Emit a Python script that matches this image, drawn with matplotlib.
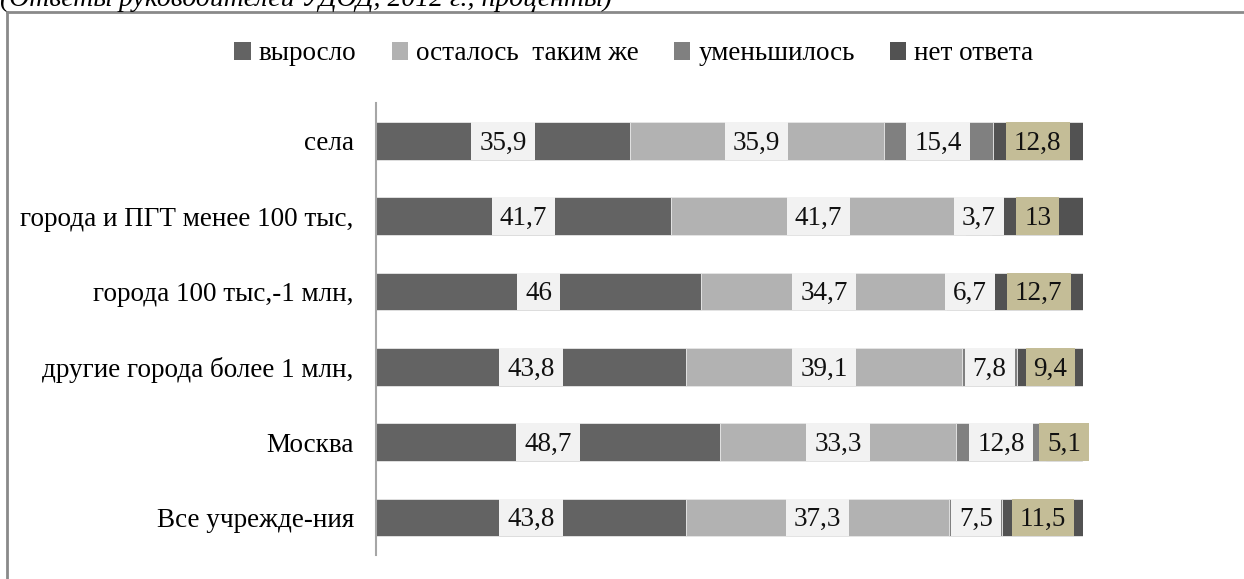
import matplotlib.pyplot as plt
from matplotlib.lines import Line2D
from matplotlib.patches import Patch, Rectangle

categories = [
    "села",
    "города и ПГТ менее 100 тыс,",
    "города 100 тыс,-1 млн,",
    "другие города более 1 млн,",
    "Москва",
    "Все учрежде-ния",
]
series_names = ["выросло", "осталось  таким же", "уменьшилось", "нет ответа"]
grew = [35.9, 41.7, 46, 43.8, 48.7, 43.8]
same = [35.9, 41.7, 34.7, 39.1, 33.3, 37.3]
fell = [15.4, 3.7, 6.7, 7.8, 12.8, 7.5]
no_answer = [12.8, 13, 12.7, 9.4, 5.1, 11.5]
series = [grew, same, fell, no_answer]

colors = ["#636363", "#b2b2b2", "#808080", "#525252"]
label_bg = ["#f2f2f2", "#f2f2f2", "#f2f2f2", "#c4bd97"]

W, H = 1244, 579
FS = 19.5
plt.rcParams["font.family"] = ["Liberation Serif", "DejaVu Serif"]

fig = plt.figure(figsize=(W / 100, H / 100), dpi=100)
ax = fig.add_axes([376 / W, 1 - 555 / H, 707 / W, 452 / H])

ypos = list(range(len(categories)))
bar_h = 0.5
left = [0.0] * len(categories)
for vals, col in zip(series, colors):
    ax.barh(ypos, vals, left=left, height=bar_h, color=col,
            edgecolor="#e6e6e6", linewidth=0.6)
    left = [l + v for l, v in zip(left, vals)]

ax.set_xlim(0, 100)
ax.set_ylim(len(categories) - 0.5, -0.5)
ax.set_yticks(ypos)
ax.set_yticklabels(categories, fontsize=FS)
ax.tick_params(axis="y", length=0, pad=16)
ax.set_xticks([])
for side in ["top", "right", "bottom"]:
    ax.spines[side].set_visible(False)
ax.spines["left"].set_color("#a6a6a6")
ax.spines["left"].set_linewidth(1.5)

# data labels with boxes the height of the bar
fig.canvas.draw()
renderer = fig.canvas.get_renderer()
inv = ax.transData.inverted()
left = [0.0] * len(categories)
for vals, bg in zip(series, label_bg):
    for i, v in enumerate(vals):
        xc = left[i] + v / 2
        txt = f"{v:g}".replace(".", ",")
        t = ax.annotate(txt, (xc, i), xytext=(0, -0.33 * FS), textcoords="offset points",
                        ha="center", va="baseline", fontsize=FS,
                        color="#111111", zorder=4)
        bb = t.get_window_extent(renderer)
        x0 = inv.transform((bb.x0 - 8, 0))[0]
        x1 = inv.transform((bb.x1 + 8, 0))[0]
        ax.add_patch(Rectangle((x0, i - bar_h / 2), x1 - x0, bar_h,
                               facecolor=bg, edgecolor="none", zorder=3,
                               clip_on=False))
    left = [l + v for l, v in zip(left, vals)]

handles = [Patch(facecolor=c, edgecolor="none") for c in colors]
fig.legend(handles, series_names, loc="center", bbox_to_anchor=(634 / W, 1 - 54 / H),
           ncol=4, frameon=False, prop={"family": "Liberation Serif", "size": FS},
           handlelength=0.6, handleheight=0.6, handletextpad=0.3, columnspacing=1.3)

# frame around the chart (only left and top edges are visible)
fig.add_artist(Line2D([7 / W, 7 / W], [0, 1 - 12 / H], color="#8a8a8a", lw=2))
fig.add_artist(Line2D([7 / W, 1], [1 - 12 / H, 1 - 12 / H], color="#8a8a8a", lw=2))

fig.text(0.0, 1 - 6 / H, "(Ответы руководителей УДОД, 2012 г., проценты)",
         ha="left", va="baseline", fontsize=20, style="italic")

fig.savefig("out.png", dpi=100)
